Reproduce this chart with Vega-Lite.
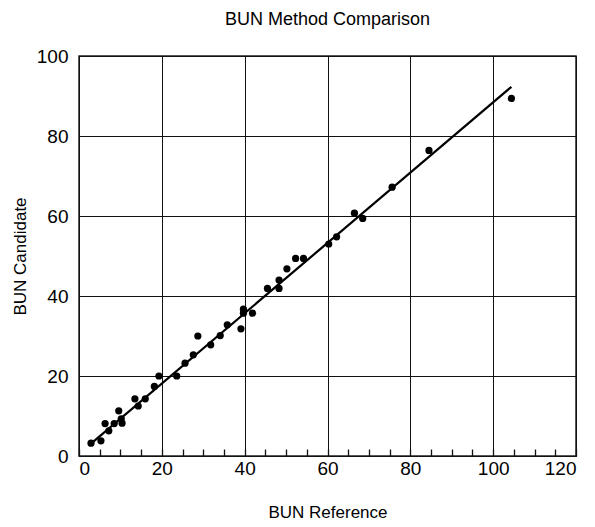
{
  "$schema": "https://vega.github.io/schema/vega-lite/v6.json",
  "width": 497,
  "height": 400,
  "autosize": {"type": "none"},
  "padding": {"left": 79, "top": 56, "right": 19, "bottom": 71},
  "title": {"text": "BUN Method Comparison", "fontSize": 18, "font": "Liberation Sans", "fontWeight": "normal", "color": "black", "offset": 18, "anchor": "middle"},
  "config": {
    "view": {"stroke": "#222222", "strokeWidth": 1.5},
    "font": "Liberation Sans",
    "axis": {"labelFont": "Liberation Sans", "titleFont": "Liberation Sans", "labelColor": "black", "titleColor": "black", "titleFontWeight": "normal", "domain": false, "gridColor": "#111111", "gridWidth": 1}
  },
  "datasets": {
    "points": [
      {"reference": 2.9, "candidate": 3.2},
      {"reference": 5.3, "candidate": 3.8},
      {"reference": 6.3, "candidate": 8.1},
      {"reference": 7.2, "candidate": 6.3},
      {"reference": 8.5, "candidate": 8.1},
      {"reference": 9.6, "candidate": 11.3},
      {"reference": 10.4, "candidate": 8.2},
      {"reference": 10.2, "candidate": 9.3},
      {"reference": 13.5, "candidate": 14.3},
      {"reference": 14.3, "candidate": 12.5},
      {"reference": 16.0, "candidate": 14.3},
      {"reference": 18.2, "candidate": 17.4},
      {"reference": 19.3, "candidate": 20.0},
      {"reference": 23.6, "candidate": 20.0},
      {"reference": 25.6, "candidate": 23.2},
      {"reference": 27.6, "candidate": 25.3},
      {"reference": 28.7, "candidate": 30.0},
      {"reference": 31.8, "candidate": 27.8},
      {"reference": 34.1, "candidate": 30.1},
      {"reference": 35.8, "candidate": 32.8},
      {"reference": 39.1, "candidate": 31.8},
      {"reference": 39.7, "candidate": 36.7},
      {"reference": 39.7, "candidate": 35.7},
      {"reference": 41.9, "candidate": 35.7},
      {"reference": 45.5, "candidate": 41.9},
      {"reference": 48.3, "candidate": 41.9},
      {"reference": 48.3, "candidate": 44.0},
      {"reference": 50.2, "candidate": 46.8},
      {"reference": 52.3, "candidate": 49.4},
      {"reference": 54.2, "candidate": 49.4},
      {"reference": 60.3, "candidate": 53.0},
      {"reference": 62.2, "candidate": 54.8},
      {"reference": 66.5, "candidate": 60.7},
      {"reference": 68.5, "candidate": 59.4},
      {"reference": 75.6, "candidate": 67.2},
      {"reference": 84.5, "candidate": 76.4},
      {"reference": 104.4, "candidate": 89.4}
    ],
    "fit": [
      {"reference": 2.9, "candidate": 3.08},
      {"reference": 104.4, "candidate": 92.3}
    ]
  },
  "layer": [
    {
      "data": {"name": "points"},
      "mark": {"type": "circle", "color": "black", "size": 52, "opacity": 1},
      "encoding": {
        "x": {
          "field": "reference", "type": "quantitative",
          "scale": {"domain": [0, 120], "nice": false},
          "axis": {
            "title": "BUN Reference", "titleFontSize": 17, "titlePadding": 26,
            "values": [0, 5, 10, 15, 20, 25, 30, 35, 40, 45, 50, 55, 60, 65, 70, 75, 80, 85, 90, 95, 100, 105, 110, 115, 120],
            "tickCount": 40,
            "labelExpr": "datum.value % 20 === 0 ? datum.label : ''",
            "labelFontSize": 19, "labelPadding": 10,
            "ticks": true, "tickSize": -7, "tickColor": "#111111", "tickWidth": 1.3,
            "grid": true,
            "gridOpacity": {"condition": {"test": "datum.value % 20 === 0", "value": 1}, "value": 0}
          }
        },
        "y": {
          "field": "candidate", "type": "quantitative",
          "scale": {"domain": [0, 100], "nice": false},
          "axis": {
            "title": "BUN Candidate", "titleFontSize": 17, "titlePadding": 7,
            "values": [0, 20, 40, 60, 80, 100],
            "labelFontSize": 19, "labelPadding": 11,
            "ticks": false, "grid": true
          }
        }
      }
    },
    {
      "data": {"name": "fit"},
      "mark": {"type": "line", "color": "black", "strokeWidth": 2.2},
      "encoding": {
        "x": {"field": "reference", "type": "quantitative"},
        "y": {"field": "candidate", "type": "quantitative"}
      }
    }
  ]
}
